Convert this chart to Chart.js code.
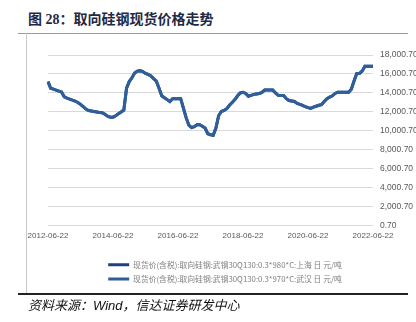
<!DOCTYPE html>
<html>
<head>
<meta charset="utf-8">
<script src="https://cdn.jsdelivr.net/npm/chart.js@4.4.1/dist/chart.umd.min.js"></script>
<style>
  html, body { margin: 0; padding: 0; width: 416px; height: 322px; overflow: hidden; background: #fff; }
  #title { position: absolute; left: 28px; top: 8px; font: bold 14px "Liberation Serif", "Noto Sans CJK SC"; color: #1f2a44; white-space: nowrap; }
  #ruleTop { position: absolute; left: 18px; top: 33px; width: 390px; height: 1px; background: #9a9a9a; }
  #ruleLeft { position: absolute; left: 26px; top: 33px; width: 1px; height: 260px; background: #c8c8c8; }
  #ruleBottom { position: absolute; left: 18px; top: 293px; width: 390px; height: 1.5px; background: #222; }
  #source { position: absolute; left: 28px; top: 295px; font: italic 13px "Liberation Sans", "Noto Sans CJK SC"; color: #111; white-space: nowrap; }
  #wrap { position: absolute; left: 0; top: 40px; width: 450px; height: 257px; }
</style>
</head>
<body>
<div id="title">图 28：取向硅钢现货价格走势</div>
<div id="ruleTop"></div>
<div id="ruleLeft"></div>
<div id="wrap"><canvas id="chart"></canvas></div>
<div id="ruleBottom"></div>
<div id="source">资料来源：Wind，信达证券研发中心</div>

<script>
// monthly points, 2012-06-22 .. 2022-06-22
const startYear = 2012, startMonth = 6, monthCount = 121;
const months = [];
for (let i = 0; i < monthCount; i++) {
  const m = startMonth - 1 + i;
  const y = startYear + Math.floor(m / 12);
  const mm = String(m % 12 + 1).padStart(2, '0');
  months.push(y + '-' + mm + '-22');
}

const xTickLabels = ['2012-06-22', '2014-06-22', '2016-06-22', '2018-06-22', '2020-06-22', '2022-06-22'];

// 上海 (元/吨)
const shanghai = [
  15200, 14500, 14400, 14300, 14200, 14100, 13600, 13450, 13350, 13250,
  13150, 13000, 12800, 12550, 12300, 12150, 12100, 12050, 12000, 11950,
  11920, 11750, 11550, 11450, 11450, 11600, 11800, 12000, 12200, 14500,
  15200, 15600, 16100, 16300, 16350, 16250, 16050, 15950, 15800, 15500,
  15250, 14500, 13700, 13500, 13300, 13100, 13400, 13400, 13400, 13400,
  12400, 11400, 10600, 10350, 10450, 10650, 10650, 10500, 10300, 9700,
  9600, 9550, 10300, 11600, 12050, 12150, 12350, 12700, 13000, 13300,
  13700, 14000, 14075, 13950, 13650, 13750, 13850, 13900, 13950, 14050,
  14300, 14300, 14300, 14300, 14000, 13750, 13730, 13730, 13400, 13200,
  13150, 13100, 12900, 12800, 12700, 12550, 12450, 12370, 12500, 12600,
  12700, 12775, 13100, 13400, 13560, 13700, 13950, 14075, 14075, 14075,
  14075, 14075, 14400, 15270, 16055, 16055, 16300, 16805, 16805, 16805,
  16805
];

// 武汉 (元/吨)
const wuhan = [
  15200, 14500, 14400, 14300, 14200, 14100, 13600, 13450, 13350, 13250,
  13150, 13000, 12800, 12550, 12300, 12150, 12100, 12050, 12000, 11950,
  11920, 11750, 11550, 11450, 11450, 11600, 11800, 12000, 12200, 14500,
  15200, 15600, 16100, 16300, 16350, 16250, 16050, 15950, 15800, 15500,
  15250, 14500, 13700, 13500, 13300, 13100, 13400, 13400, 13400, 13400,
  12400, 11400, 10600, 10350, 10450, 10650, 10650, 10500, 10300, 9700,
  9600, 9550, 10300, 11600, 12050, 12150, 12350, 12700, 13000, 13300,
  13700, 14000, 14075, 13950, 13650, 13750, 13850, 13900, 13950, 14050,
  14300, 14300, 14300, 14300, 14000, 13750, 13730, 13730, 13400, 13200,
  13150, 13100, 12900, 12800, 12700, 12550, 12450, 12370, 12500, 12600,
  12700, 12775, 13100, 13400, 13560, 13700, 13950, 14075, 14075, 14075,
  14075, 14075, 14400, 15270, 16055, 16055, 16300, 16805, 16805, 16805,
  16805
];

const seriesNames = [
  '现货价(含税):取向硅钢:武钢30Q130:0.3*980*C:上海 日 元/吨',
  '现货价(含税):取向硅钢:武钢30Q130:0.3*970*C:武汉 日 元/吨'
];

const ctx = document.getElementById('chart').getContext('2d');

new Chart(ctx, {
  type: 'line',
  data: {
    labels: months,
    datasets: [
      {
        label: seriesNames[0],
        data: shanghai,
        yAxisID: 'y',
        borderColor: '#213f7e',
        backgroundColor: '#213f7e',
        borderWidth: 3,
        pointRadius: 0,
        order: 2
      },
      {
        label: seriesNames[1],
        data: wuhan,
        yAxisID: 'y',
        borderColor: '#2e5f9a',
        backgroundColor: '#2e5f9a',
        borderWidth: 3,
        pointRadius: 0,
        order: 1
      }
    ]
  },
  options: {
    responsive: true,
    maintainAspectRatio: false,
    animation: false,
    layout: { padding: { left: 0, top: 15, bottom: 4 } },
    plugins: {
      tooltip: { enabled: false },
      legend: {
        position: 'bottom',
        labels: {
          usePointStyle: true,
          pointStyle: 'line',
          pointStyleWidth: 21,
          boxHeight: 8,
          padding: 6.5,
          color: '#808080',
          font: { size: 7.8, family: '"Noto Sans CJK SC", "Liberation Sans"' },
          sort: (a, b) => a.datasetIndex - b.datasetIndex
        }
      }
    },
    scales: {
      x: {
        grid: { display: false, drawTicks: false },
        border: { display: false },
        title: { display: true, text: '', font: { size: 1 }, padding: { top: 7.8, bottom: 0 } },
        ticks: {
          autoSkip: false,
          maxRotation: 0,
          padding: 5,
          color: '#595959',
          font: { size: 8, family: '"Liberation Sans", Arial' },
          callback: function (value, index) {
            const lab = months[index];
            return xTickLabels.includes(lab) ? lab : '';
          }
        }
      },
      y: {
        position: 'right',
        min: 0.7,
        max: 18000.7,
        afterFit: function (scale) { scale.width = 77; },
        grid: { color: '#d9d9d9', lineWidth: 1, drawTicks: false },
        border: { display: false },
        ticks: {
          stepSize: 2000,
          padding: 7,
          color: '#595959',
          font: { size: 8.5, family: '"Liberation Sans", Arial' },
          callback: function (v) {
            return Number(v).toLocaleString('en-US', { minimumFractionDigits: 2, maximumFractionDigits: 2 });
          }
        }
      },
      // empty spacer on the left so the plot starts where the reference does
      spacer: {
        position: 'left',
        display: true,
        afterFit: function (scale) { scale.width = 48; },
        grid: { display: false, drawTicks: false },
        border: { display: false },
        ticks: { display: false }
      }
    }
  }
});
</script>
</body>
</html>
